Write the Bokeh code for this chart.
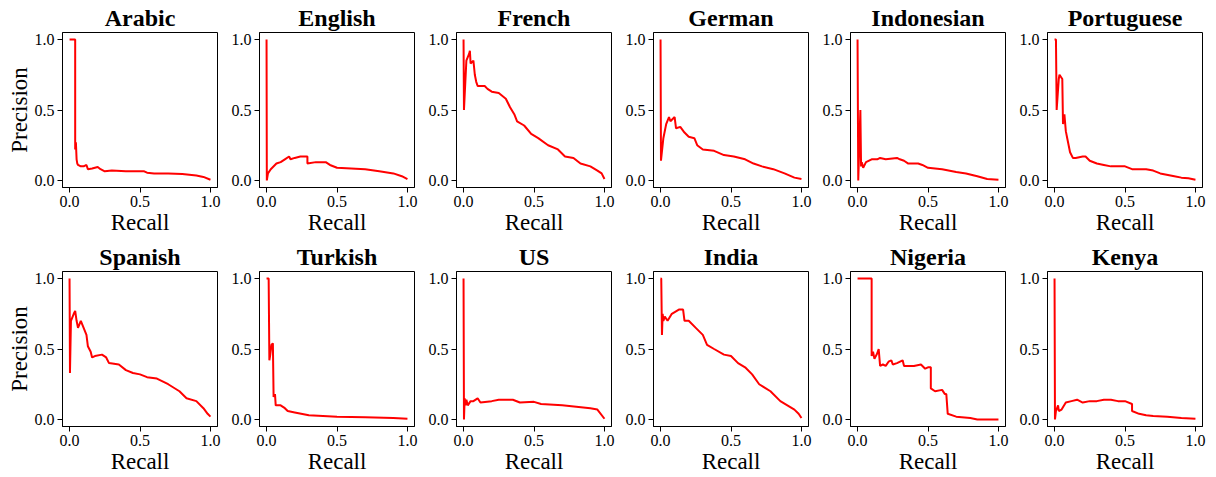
from bokeh.plotting import figure
from bokeh.layouts import gridplot
from bokeh.models import FixedTicker, Range1d
from bokeh.embed import file_html
from bokeh.resources import INLINE

languages = ["Arabic", "English", "French", "German", "Indonesian", "Portuguese",
             "Spanish", "Turkish", "US", "India", "Nigeria", "Kenya"]
tick_values = [0.0, 0.5, 1.0]
tick_labels = ["0.0", "0.5", "1.0"]

arabic_recall = [0, 0.04, 0.04, 0.045, 0.05, 0.055, 0.06, 0.08, 0.1, 0.12, 0.13, 0.16, 0.2, 0.22, 0.25, 0.3, 0.4, 0.5, 0.53, 0.55, 0.6, 0.7, 0.8, 0.9, 0.95, 1.0]
arabic_precision = [1.0, 1.0, 0.22, 0.27, 0.15, 0.12, 0.11, 0.1, 0.1, 0.11, 0.08, 0.085, 0.095, 0.08, 0.065, 0.07, 0.065, 0.065, 0.065, 0.055, 0.05, 0.05, 0.045, 0.035, 0.025, 0.005]

english_recall = [0, 0.002, 0.01, 0.03, 0.07, 0.1, 0.13, 0.16, 0.17, 0.2, 0.24, 0.29, 0.29, 0.35, 0.42, 0.45, 0.5, 0.6, 0.7, 0.8, 0.9, 0.96, 1.0]
english_precision = [1.0, 0.0, 0.05, 0.08, 0.12, 0.13, 0.15, 0.17, 0.15, 0.16, 0.17, 0.17, 0.12, 0.13, 0.13, 0.11, 0.09, 0.085, 0.08, 0.065, 0.05, 0.03, 0.01]

french_recall = [0, 0.003, 0.02, 0.04, 0.045, 0.05, 0.07, 0.08, 0.09, 0.1, 0.15, 0.17, 0.2, 0.25, 0.3, 0.33, 0.36, 0.38, 0.43, 0.48, 0.53, 0.6, 0.67, 0.72, 0.78, 0.83, 0.9, 0.95, 0.98, 1.0]
french_precision = [1.0, 0.5, 0.85, 0.9, 0.92, 0.83, 0.85, 0.75, 0.7, 0.67, 0.67, 0.65, 0.63, 0.62, 0.58, 0.52, 0.47, 0.42, 0.39, 0.33, 0.3, 0.25, 0.22, 0.17, 0.16, 0.12, 0.1, 0.07, 0.05, 0.01]

german_recall = [0, 0.003, 0.02, 0.04, 0.06, 0.07, 0.1, 0.11, 0.14, 0.17, 0.2, 0.24, 0.26, 0.3, 0.38, 0.45, 0.52, 0.6, 0.66, 0.72, 0.8, 0.88, 0.95, 1.0]
german_precision = [1.0, 0.14, 0.3, 0.4, 0.45, 0.42, 0.45, 0.37, 0.38, 0.34, 0.31, 0.3, 0.25, 0.22, 0.21, 0.18, 0.17, 0.15, 0.12, 0.1, 0.08, 0.05, 0.02, 0.01]

indonesian_recall = [0, 0.005, 0.02, 0.025, 0.03, 0.04, 0.06, 0.1, 0.14, 0.16, 0.2, 0.28, 0.3, 0.33, 0.36, 0.43, 0.46, 0.5, 0.6, 0.7, 0.77, 0.85, 0.92, 1.0]
indonesian_precision = [1.0, 0.0, 0.5, 0.1, 0.13, 0.09, 0.13, 0.15, 0.15, 0.16, 0.15, 0.16, 0.15, 0.14, 0.12, 0.12, 0.11, 0.09, 0.08, 0.06, 0.05, 0.03, 0.01, 0.005]

portuguese_recall = [0, 0.01, 0.015, 0.03, 0.035, 0.055, 0.06, 0.07, 0.08, 0.09, 0.1, 0.11, 0.13, 0.15, 0.2, 0.22, 0.25, 0.3, 0.35, 0.4, 0.5, 0.55, 0.65, 0.7, 0.75, 0.85, 0.9, 0.95, 1.0]
portuguese_precision = [1.0, 1.0, 0.5, 0.72, 0.75, 0.72, 0.4, 0.47, 0.35, 0.3, 0.25, 0.2, 0.16, 0.16, 0.17, 0.17, 0.14, 0.12, 0.11, 0.1, 0.1, 0.08, 0.08, 0.07, 0.05, 0.03, 0.02, 0.015, 0.005]

spanish_recall = [0, 0.003, 0.01, 0.03, 0.04, 0.05, 0.06, 0.08, 0.1, 0.12, 0.13, 0.15, 0.16, 0.18, 0.23, 0.26, 0.28, 0.35, 0.4, 0.45, 0.5, 0.55, 0.62, 0.7, 0.78, 0.83, 0.9, 0.95, 0.98, 1.0]
spanish_precision = [1.0, 0.33, 0.7, 0.75, 0.77, 0.7, 0.65, 0.7, 0.65, 0.6, 0.52, 0.48, 0.44, 0.45, 0.46, 0.44, 0.4, 0.39, 0.35, 0.33, 0.32, 0.3, 0.29, 0.25, 0.2, 0.15, 0.13, 0.08, 0.04, 0.02]

turkish_recall = [0, 0.015, 0.02, 0.025, 0.035, 0.045, 0.05, 0.06, 0.065, 0.1, 0.13, 0.15, 0.2, 0.3, 0.5, 0.7, 0.9, 1.0]
turkish_precision = [1.0, 1.0, 0.42, 0.45, 0.53, 0.54, 0.16, 0.18, 0.1, 0.1, 0.08, 0.06, 0.05, 0.03, 0.02, 0.015, 0.01, 0.005]

us_recall = [0, 0.003, 0.008, 0.015, 0.02, 0.03, 0.05, 0.07, 0.1, 0.12, 0.2, 0.25, 0.35, 0.4, 0.5, 0.55, 0.7, 0.8, 0.9, 0.95, 1.0]
us_precision = [1.0, 0.0, 0.15, 0.1, 0.14, 0.1, 0.13, 0.13, 0.15, 0.12, 0.13, 0.14, 0.14, 0.12, 0.125, 0.11, 0.1, 0.09, 0.08, 0.07, 0.005]

india_recall = [0, 0.005, 0.01, 0.015, 0.02, 0.03, 0.05, 0.08, 0.13, 0.16, 0.17, 0.2, 0.25, 0.3, 0.33, 0.38, 0.45, 0.5, 0.55, 0.6, 0.65, 0.7, 0.78, 0.85, 0.9, 0.95, 0.98, 1.0]
india_precision = [1.0, 1.0, 0.6, 0.75, 0.7, 0.73, 0.7, 0.75, 0.78, 0.78, 0.7, 0.7, 0.65, 0.6, 0.53, 0.5, 0.46, 0.45, 0.4, 0.37, 0.32, 0.25, 0.2, 0.13, 0.1, 0.07, 0.04, 0.01]

nigeria_recall = [0, 0.1, 0.1, 0.11, 0.12, 0.14, 0.15, 0.16, 0.18, 0.2, 0.22, 0.24, 0.25, 0.28, 0.32, 0.33, 0.4, 0.45, 0.48, 0.5, 0.52, 0.52, 0.55, 0.6, 0.62, 0.63, 0.64, 0.7, 0.8, 0.85, 1.0]
nigeria_precision = [1.0, 1.0, 0.45, 0.48, 0.43, 0.47, 0.5, 0.38, 0.39, 0.38, 0.41, 0.42, 0.39, 0.4, 0.42, 0.38, 0.38, 0.39, 0.36, 0.37, 0.37, 0.22, 0.2, 0.21, 0.18, 0.18, 0.04, 0.02, 0.01, 0.0, 0.0]

kenya_recall = [0, 0.003, 0.01, 0.025, 0.03, 0.05, 0.08, 0.12, 0.16, 0.2, 0.25, 0.3, 0.35, 0.4, 0.45, 0.5, 0.55, 0.55, 0.6, 0.65, 0.7, 0.8, 0.9, 1.0]
kenya_precision = [1.0, 0.0, 0.06, 0.1, 0.06, 0.07, 0.12, 0.13, 0.14, 0.12, 0.13, 0.13, 0.14, 0.14, 0.13, 0.13, 0.11, 0.06, 0.04, 0.03, 0.025, 0.02, 0.01, 0.005]

curves = [
    (arabic_recall, arabic_precision), (english_recall, english_precision),
    (french_recall, french_precision), (german_recall, german_precision),
    (indonesian_recall, indonesian_precision), (portuguese_recall, portuguese_precision),
    (spanish_recall, spanish_precision), (turkish_recall, turkish_precision),
    (us_recall, us_precision), (india_recall, india_precision),
    (nigeria_recall, nigeria_precision), (kenya_recall, kenya_precision),
]

FONT = "Liberation Serif"
figs = []
for i, (name, (r, pr)) in enumerate(zip(languages, curves)):
    row, col = divmod(i, 6)
    f = figure(
        frame_width=155, frame_height=155,
        x_range=Range1d(-0.05, 1.05), y_range=Range1d(-0.05, 1.05),
        output_backend="svg", toolbar_location=None,
        min_border_left=62 if col == 0 else 33,
        min_border_right=9,
        min_border_top=31 if row == 0 else 28,
        min_border_bottom=52 if row == 0 else 50,
        title=name,
    )
    f.title.text_font = FONT
    f.title.text_font_style = "bold"
    f.title.text_font_size = "24px"
    f.title.text_color = "black"
    f.title.align = "center"
    f.title.standoff = 4
    f.line(r, pr, line_color="#ff0000", line_width=2)
    f.grid.visible = False
    f.outline_line_color = "black"
    f.outline_line_width = 1
    for ax in (f.xaxis[0], f.yaxis[0]):
        ax.ticker = FixedTicker(ticks=tick_values, minor_ticks=[])
        ax.major_label_overrides = {v: l for v, l in zip(tick_values, tick_labels)}
        ax.major_label_text_font = FONT
        ax.major_label_text_font_size = "16px"
        ax.major_label_text_color = "black"
        ax.major_tick_out = 5
        ax.major_tick_in = 0
        ax.major_tick_line_color = "black"
        ax.axis_line_color = "black"
        ax.major_label_standoff = 3
        ax.axis_label_text_font = FONT
        ax.axis_label_text_font_size = "23px"
        ax.axis_label_text_font_style = "normal"
        ax.axis_label_text_color = "black"
        ax.axis_label_standoff = 0
    f.xaxis.axis_label = "Recall"
    if col == 0:
        f.yaxis.axis_label = "Precision"
    figs.append(f)

grid = gridplot(figs, ncols=6, toolbar_location=None)
open("out.html", "w").write(file_html(grid, INLINE))
